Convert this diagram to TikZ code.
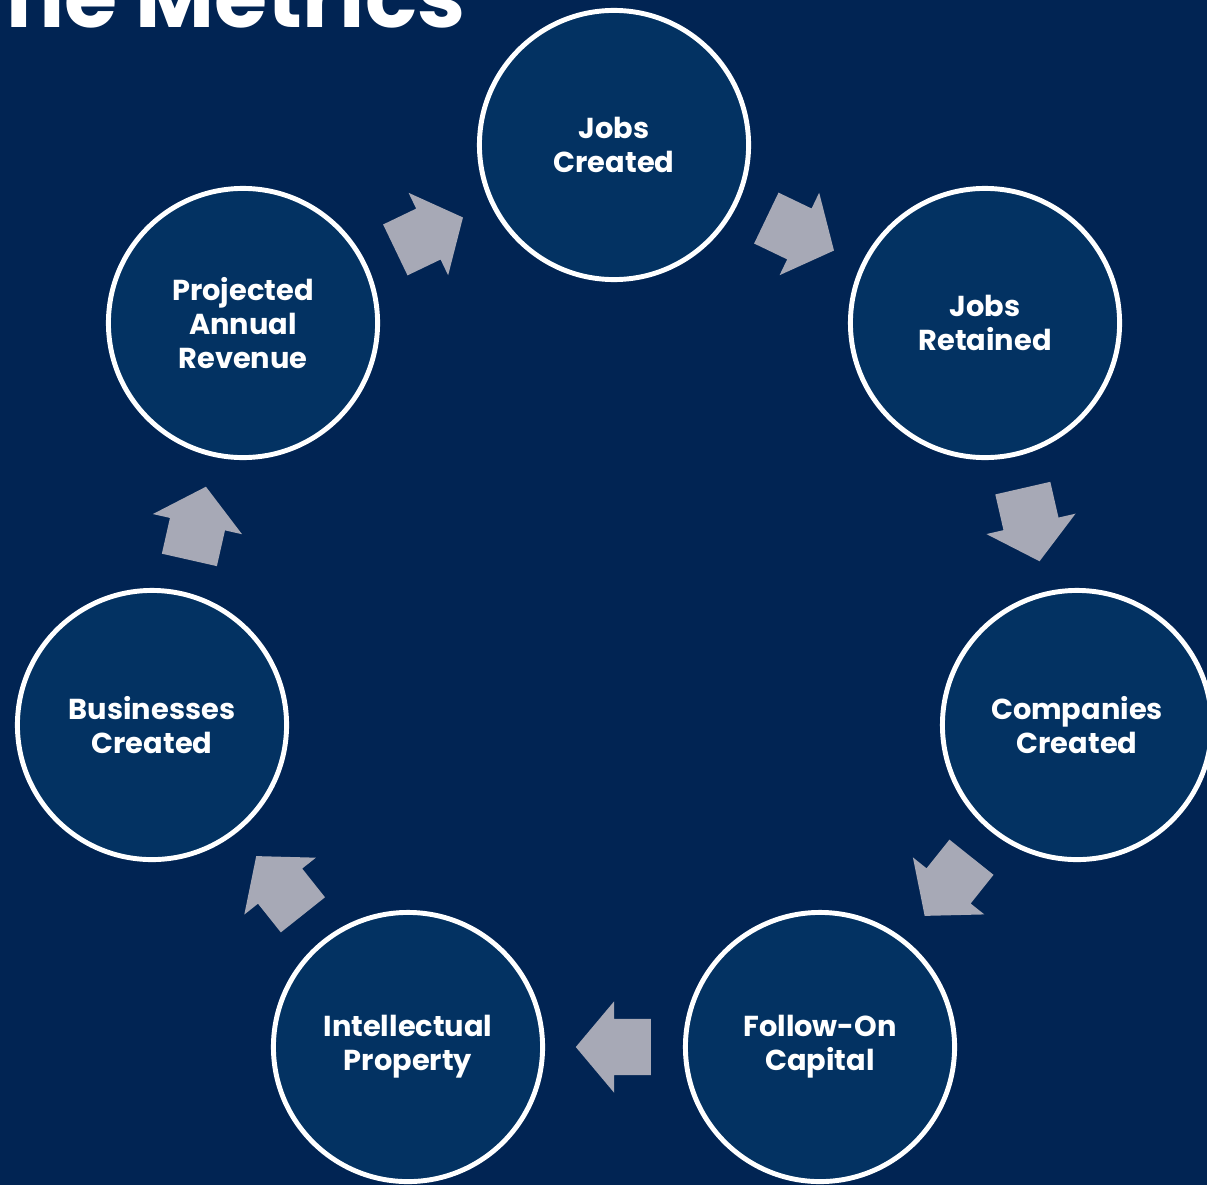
\documentclass[tikz,border=0pt]{standalone}
\usepackage{fontspec}
\setmainfont{Poppins}
\usetikzlibrary{shapes.arrows,calc}
\definecolor{navybg}{HTML}{012453}
\definecolor{navycircle}{HTML}{033262}
\definecolor{arrowgrey}{HTML}{A7A9B6}
\begin{document}
\begin{tikzpicture}[
    x=0.01cm, y=-0.01cm,
    every node/.append style={font=\bfseries\fontsize{8.2}{9.7}\selectfont, text=white},
    metric/.style={circle, draw=white, line width=1.4pt, fill=navycircle, minimum size=2.69cm, align=center, inner sep=0pt},
    blockarrow/.style={single arrow, draw=none, fill=arrowgrey, minimum height=0.75cm, inner xsep=0pt, inner ysep=0.275cm, single arrow head extend=0.175cm, single arrow tip angle=100, anchor=tail}
]
    % Hintergrund
    \fill[navybg] (0,0) rectangle (1207,1185);
    \useasboundingbox (0,0) rectangle (1207,1185);
    \clip (0,0) rectangle (1207,1185);

    % Titel
    \node[anchor=base east, font=\bfseries\fontsize{24.5}{26}\selectfont, inner sep=0pt] (title) at (466,28) {The Metrics};

    % Kreise
    \node[metric] (jobsCreated) at (614,145) {Jobs\\Created};
    \node[metric] (jobsRetained) at (985,323) {Jobs\\Retained};
    \node[metric] (companies) at (1077,725) {Companies\\Created};
    \node[metric] (followOn) at (820,1047) {Follow-On\\Capital};
    \node[metric] (ip) at (408,1047) {Intellectual\\Property};
    \node[metric] (businesses) at (152,725) {Businesses\\Created};
    \node[metric] (revenue) at (243,323) {Projected\\Annual\\Revenue};

    % Pfeile
    \foreach \src/\dst/\arw in {jobsCreated/jobsRetained/a1, jobsRetained/companies/a2, companies/followOn/a3, followOn/ip/a4, ip/businesses/a5, businesses/revenue/a6, revenue/jobsCreated/a7}{
        \path let \p1=($(\dst)-(\src)$), \n1={atan2(\y1,\x1)}, \p2=($(\src)!0.5!(\dst)$) in
            node[blockarrow, rotate=\n1] (\arw) at ($(\p2)!0.375cm!(\src)$) {};
    }

\end{tikzpicture}
\end{document}
